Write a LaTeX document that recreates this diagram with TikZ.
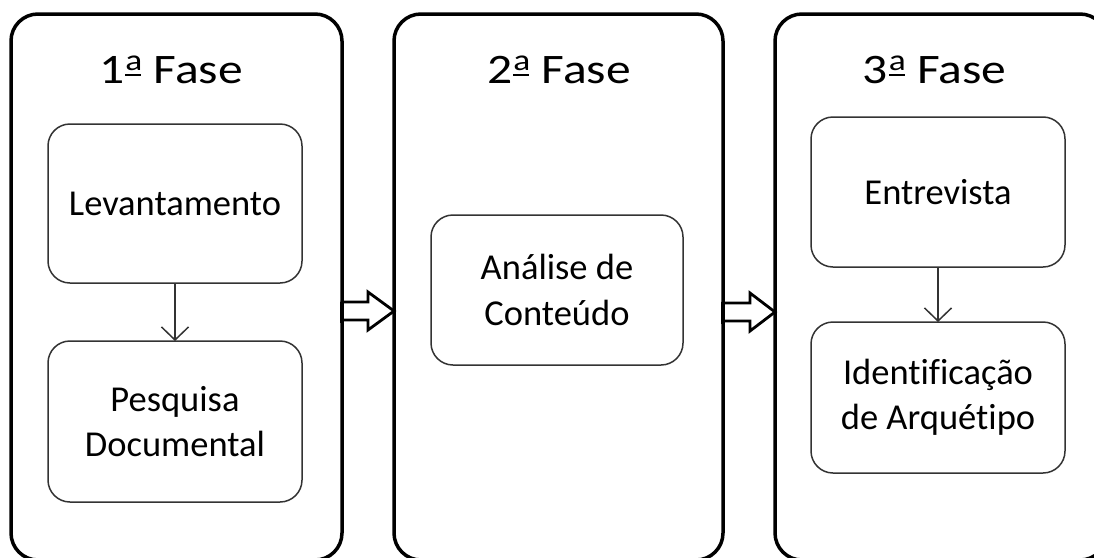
\documentclass[tikz,border=0pt]{standalone}
\usepackage{fontspec}
\setmainfont[Ligatures=CommonOff]{Carlito}
\usetikzlibrary{arrows.meta,calc}
\newcommand\ordfem{\kern1pt\rlap{\raisebox{12.5pt}{\fontsize{30}{30}\selectfont a}}\rule[7pt]{13.5pt}{2.2pt}\kern1pt}
\newcommand\phasetitle[1]{\scalebox{1.18}[1]{#1\ordfem{} Fase}}
\begin{document}
\begin{tikzpicture}[x=1pt,y=-1pt,
  phase/.style={draw=black, line width=3.5pt, rounded corners=27pt, minimum width=331pt, inner sep=0pt, outer sep=0pt},
  title/.style={font=\fontsize{42}{50}\selectfont, anchor=base, inner sep=0pt},
  stepbox/.style={draw=black!80, line width=1.5pt, rounded corners=22pt, minimum width=254pt, inner sep=0pt, outer sep=0pt, align=center, font=\fontsize{36.5}{45.5}\selectfont},
  thinarrow/.style={draw=black!80, line width=1.5pt, -{Straight Barb[length=13pt,width=27pt,line width=1.5pt]}},
  blockarrow/.style={draw=black, line width=2.8pt, fill=white, line join=miter}
]
\useasboundingbox (0,0) rectangle (1094,557);
% outer phase boxes
\node[phase, minimum width=331pt, minimum height=546pt] (p1) at (176.5,287) {};
\node[phase, minimum width=329pt, minimum height=546pt] (p2) at (558.5,287) {};
\node[phase, minimum width=332pt, minimum height=546pt] (p3) at (941,287) {};
% titles
\node[title] (t1) at (171,83) {\phasetitle{1}};
\node[title] (t2) at (559,83) {\phasetitle{2}};
\node[title] (t3) at (934.5,83) {\phasetitle{3}};
% inner boxes
\node[stepbox, minimum height=159pt] (lev) at (175,203.5) {Levantamento};
\node[stepbox, minimum height=161pt] (pes) at (175,421.5) {Pesquisa\\Documental};
\node[stepbox, minimum width=252pt, minimum height=150pt] (ana) at (557,290) {Análise de\\Conteúdo};
\node[stepbox, minimum height=150pt] (ent) at (938,192) {Entrevista};
\node[stepbox, minimum height=151pt] (ide) at (938,397.5) {Identificação\\de Arquétipo};
% thin arrows
\draw[thinarrow] (lev) -- (pes);
\draw[thinarrow] (ent) -- (ide);
% block arrows
\coordinate (a1) at (p2.west |- 0,311);
\draw[blockarrow] (a1) -- ($(a1)+(-26,-19)$) -- ($(a1)+(-26,-9)$) -- (p1.east |- 0,302)
  -- (p1.east |- 0,320) -- ($(a1)+(-26,9)$) -- ($(a1)+(-26,19)$) -- cycle;
\coordinate (a2) at (p3.west |- 0,312);
\draw[blockarrow] (a2) -- ($(a2)+(-25,-19)$) -- ($(a2)+(-25,-9)$) -- (p2.east |- 0,303)
  -- (p2.east |- 0,321) -- ($(a2)+(-25,9)$) -- ($(a2)+(-25,19)$) -- cycle;
% redraw box borders over arrow shaft ends
\draw[line width=3.5pt] ($(p1.east)+(0,15)$) -- ($(p1.east)+(0,36)$);
\draw[line width=3.5pt] ($(p2.east)+(0,15)$) -- ($(p2.east)+(0,37)$);
\end{tikzpicture}
\end{document}
